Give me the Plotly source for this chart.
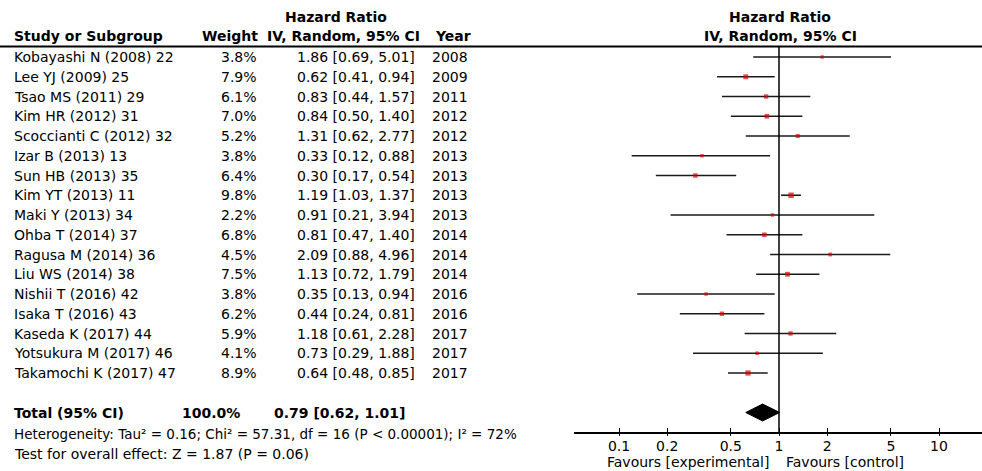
import plotly.graph_objects as go
import math

studies = ["Kobayashi N (2008) 22", "Lee YJ (2009) 25", "Tsao MS (2011) 29", "Kim HR (2012) 31",
           "Scoccianti C (2012) 32", "Izar B (2013) 13", "Sun HB (2013) 35", "Kim YT (2013) 11",
           "Maki Y (2013) 34", "Ohba T (2014) 37", "Ragusa M (2014) 36", "Liu WS (2014) 38",
           "Nishii T (2016) 42", "Isaka T (2016) 43", "Kaseda K (2017) 44", "Yotsukura M (2017) 46",
           "Takamochi K (2017) 47"]
weights = [3.8, 7.9, 6.1, 7.0, 5.2, 3.8, 6.4, 9.8, 2.2, 6.8, 4.5, 7.5, 3.8, 6.2, 5.9, 4.1, 8.9]
hr = [1.86, 0.62, 0.83, 0.84, 1.31, 0.33, 0.30, 1.19, 0.91, 0.81, 2.09, 1.13, 0.35, 0.44, 1.18, 0.73, 0.64]
lo = [0.69, 0.41, 0.44, 0.50, 0.62, 0.12, 0.17, 1.03, 0.21, 0.47, 0.88, 0.72, 0.13, 0.24, 0.61, 0.29, 0.48]
hi = [5.01, 0.94, 1.57, 1.40, 2.77, 0.88, 0.54, 1.37, 3.94, 1.40, 4.96, 1.79, 0.94, 0.81, 2.28, 1.88, 0.85]
years = [2008, 2009, 2011, 2012, 2012, 2013, 2013, 2013, 2013, 2014, 2014, 2014, 2016, 2016, 2017, 2017, 2017]

total_label = "Total (95% CI)"
total_weight = "100.0%"
total_hr, total_lo, total_hi = 0.79, 0.62, 1.01
heterogeneity = "Heterogeneity: Tau² = 0.16; Chi² = 57.31, df = 16 (P < 0.00001); I² = 72%"
overall = "Test for overall effect: Z = 1.87 (P = 0.06)"
tick_vals = [0.1, 0.2, 0.5, 1, 2, 5, 10]
tick_text = ["0.1", "0.2", "0.5", "1", "2", "5", "10"]
favours_left = "Favours [experimental]"
favours_right = "Favours [control]"

W, H = 982, 471
FONT = "DejaVu Sans"
FS = 14
ROW0, ROWH = 57, 19.75          # pixel of first row, row spacing
AXIS_PX = 432                   # pixel of x axis line
AX_LEFT_PX = 574
PX_PER_DEC, ONE_PX = 160, 779

n = len(studies)
total_row = n + 1
rows = list(range(n))

y_top = -ROW0 / ROWH
y_bot = (AXIS_PX - ROW0) / ROWH
x_left = (AX_LEFT_PX - ONE_PX) / PX_PER_DEC
x_right = (W - ONE_PX) / PX_PER_DEC

def px(x):
    return x / W

def py(y):
    return 1 - y / H

fig = go.Figure()

# CI lines
cx, cy = [], []
for r, a, b in zip(rows, lo, hi):
    cx += [a, b, None]
    cy += [r, r, None]
fig.add_trace(go.Scatter(x=cx, y=cy, mode="lines", line=dict(color="#1a1a1a", width=1.6),
                         hoverinfo="skip", showlegend=False))

# Vertical line of no effect
header_row = (46.5 - ROW0) / ROWH
fig.add_trace(go.Scatter(x=[1, 1], y=[header_row, y_bot], mode="lines",
                         line=dict(color="black", width=1.5), hoverinfo="skip", showlegend=False))

# Squares
fig.add_trace(go.Scatter(x=hr, y=rows, mode="markers",
                         marker=dict(symbol="square", color="#dd0000",
                                     size=[max(3.4, 1.75 * math.sqrt(w)) for w in weights],
                                     line=dict(width=0)),
                         hoverinfo="skip", showlegend=False))

# Diamond
dh = 0.43
fig.add_trace(go.Scatter(x=[total_lo, total_hr, total_hi, total_hr, total_lo],
                         y=[total_row, total_row - dh, total_row, total_row + dh, total_row],
                         mode="lines", fill="toself", fillcolor="black",
                         line=dict(color="black", width=1), hoverinfo="skip", showlegend=False))

# dummy trace for secondary tick axis
fig.add_trace(go.Scatter(x=[1], y=[0], xaxis="x2", mode="markers", marker=dict(opacity=0),
                         hoverinfo="skip", showlegend=False))

ann = []
def add(text, x, y, xanchor="left", yref="y", bold=False, size=FS):
    ann.append(dict(text=f"<b>{text}</b>" if bold else text, x=x, y=y, xref="paper", yref=yref,
                    xanchor=xanchor, yanchor="middle", showarrow=False,
                    font=dict(family=FONT, size=size, color="black")))

# Headers
add("Hazard Ratio", px(336), py(17), "center", "paper", True)
add("Study or Subgroup", px(12), py(36), "left", "paper", True)
add("Weight", px(260), py(36), "right", "paper", True)
add("IV, Random, 95% CI", px(343), py(36), "center", "paper", True)
add("Year", px(433), py(36), "left", "paper", True)
add("Hazard Ratio", px(780), py(17), "center", "paper", True)
add("IV, Random, 95% CI", px(780), py(36), "center", "paper", True)

# Rows
for r, s, w, h, a, b, yr in zip(rows, studies, weights, hr, lo, hi, years):
    add(s, px(12), r)
    add(f"{w:.1f}%", px(259), r, "right")
    add(f"{h:.2f} [{a:.2f}, {b:.2f}]", px(417), r, "right")
    add(str(yr), px(430), r)

add(total_label, px(12), total_row, "left", "y", True)
add(total_weight, px(242), total_row, "right", "y", True)
add(f"{total_hr:.2f} [{total_lo:.2f}, {total_hi:.2f}]", px(272), total_row, "left", "y", True)

add(heterogeneity, px(12), py(434), "left", "paper", size=13.5)
add(overall, px(12), py(454), "left", "paper")

add(favours_left, px(771), py(462), "right", "paper")
add(favours_right, px(784), py(462), "left", "paper")

fig.update_layout(
    width=W, height=H, margin=dict(l=0, r=0, t=0, b=0),
    paper_bgcolor="white", plot_bgcolor="white",
    annotations=ann,
    shapes=[dict(type="line", xref="paper", yref="paper", x0=0, x1=1, y0=py(46.5), y1=py(46.5),
                 line=dict(color="black", width=2))],
    xaxis=dict(type="log", range=[x_left, x_right], domain=[px(AX_LEFT_PX), 1],
               showline=True, linecolor="black", linewidth=1.5,
               ticks="inside", ticklen=4, tickwidth=1.2, tickcolor="black",
               tickvals=tick_vals, ticktext=tick_text, showgrid=False, zeroline=False,
               tickfont=dict(family=FONT, size=FS, color="black"), ticklabelstandoff=0,
               fixedrange=True),
    xaxis2=dict(type="log", range=[x_left, x_right], domain=[px(AX_LEFT_PX), 1],
                overlaying="x", anchor="y", side="bottom",
                ticks="outside", ticklen=3, tickwidth=1.2, tickcolor="black",
                tickvals=tick_vals, showticklabels=False, showgrid=False, zeroline=False,
                showline=False),
    yaxis=dict(range=[y_bot, y_top], domain=[1 - AXIS_PX / H, 1], visible=False,
               showgrid=False, zeroline=False, fixedrange=True),
)

fig.write_html("out.html")
